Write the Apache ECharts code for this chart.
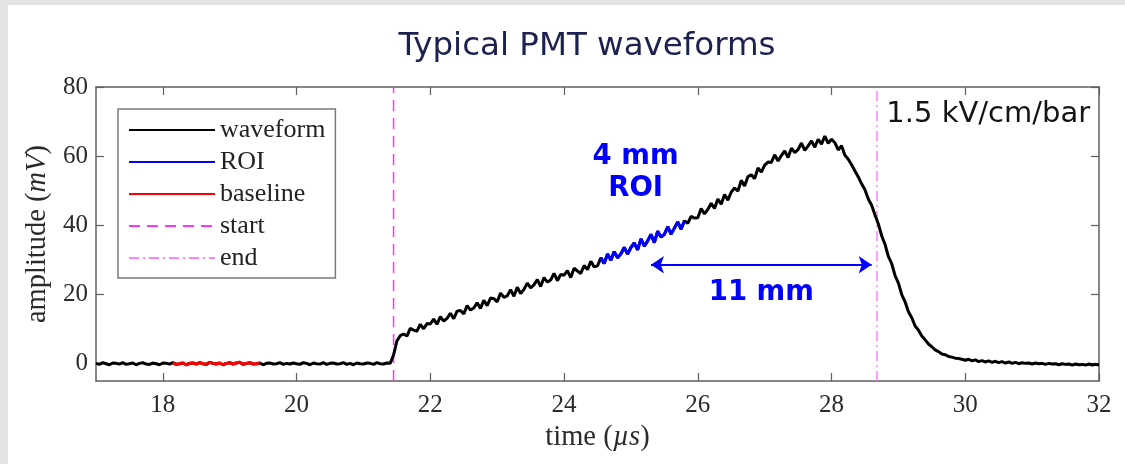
<!DOCTYPE html>
<html>
<head>
<meta charset="utf-8">
<title>Typical PMT waveforms</title>
<script src="https://cdn.jsdelivr.net/npm/echarts@6.0.0/dist/echarts.min.js"></script>
<style>
    html, body { margin: 0; padding: 0; background: #e3e3e3; }
    #chart { position: absolute; left: 8px; top: 5px; width: 1117px; height: 459px; background: #fff; }
</style>
</head>
<body>
<div id="chart"></div>
<script>
// trace sampling (µs)
const tStart = 17
const tStep = 0.05

// amplitude (mV), 17.00 .. 21.40 us
const preTrigger = [
    0.1, -0.2, 0.3, 0.0, -0.3, 0.2, 0.1, -0.1, 0.3, -0.2,
    0.0, 0.2, -0.3, 0.1, 0.3, -0.1, -0.2, 0.2, 0.0, -0.3,
    0.2, 0.1, -0.1, 0.3, -0.2, 0.0, 0.2, -0.3, 0.1, 0.2,
    -0.1, 0.3, 0.0, -0.2, 0.4, 0.1, -0.1, 0.2, -0.3, 0.1,
    0.3, -0.1, 0.2, 0.4, -0.2, 0.1, 0.3, -0.1, 0.0, 0.2,
    -0.3, 0.1, 0.2, -0.1, 0.0, 0.3, -0.2, 0.1, -0.1, 0.2,
    0.0, -0.2, 0.3, 0.1, -0.3, 0.2, 0.0, -0.1, 0.3, -0.2,
    0.1, 0.2, -0.1, 0.0, 0.3, -0.2, 0.1, -0.3, 0.2, 0.0,
    -0.1, 0.2, 0.1, -0.2, 0.3, 0.0, -0.1, 0.2, 0.1,
]

// amplitude (mV), 21.45 .. 32.00 us
const pulse = [
    2.5,
    6.6, 8.1, 8.6, 8.0, 10.2, 9.7, 9.4, 11.4, 10.1, 11.6,
    11.5, 12.9, 11.4, 13.6, 12.3, 13.1, 14.6, 13.0, 15.2, 15.4,
    14.4, 16.8, 15.5, 16.1, 17.6, 16.0, 18.3, 16.8, 19.0, 18.8,
    17.9, 20.4, 19.2, 19.6, 21.4, 19.5, 22.1, 20.3, 21.5, 23.3,
    21.9, 22.8, 24.3, 22.3, 24.9, 23.6, 24.2, 26.1, 24.0, 25.8,
    25.6, 26.9, 24.9, 27.6, 26.8, 26.1, 28.4, 27.2, 29.6, 28.0,
    28.3, 30.6, 29.0, 31.7, 29.9, 32.4, 30.6, 31.8, 33.6, 31.7,
    33.6, 34.9, 32.9, 36.1, 34.0, 35.5, 37.4, 35.0, 38.3, 36.6,
    37.4, 39.6, 37.5, 39.2, 41.0, 38.9, 41.3, 40.6, 42.6, 42.1,
    42.2, 44.9, 43.3, 44.6, 46.4, 44.9, 47.6, 46.1, 48.9, 47.3,
    49.6, 50.8, 49.9, 53.0, 51.4, 54.1, 54.6, 53.5, 56.6, 55.4,
    57.4, 58.3, 58.2, 60.4, 58.6, 60.2, 61.5, 59.6, 62.3, 61.0,
    61.9, 63.8, 61.7, 63.0, 64.4, 62.6, 64.9, 63.5, 65.8, 63.7,
    64.9, 63.9, 61.8, 63.0, 60.3, 59.1, 57.5, 55.7, 54.0, 52.0,
    50.3, 47.6, 45.8, 43.0, 40.4, 37.0, 34.5, 31.0, 28.9, 25.5,
    23.3, 20.0, 17.9, 15.0, 13.3, 10.9, 9.7, 8.0, 6.9, 5.7,
    4.9, 4.0, 3.5, 2.8, 2.6, 2.1, 1.9, 1.6, 1.5, 1.3,
    1.0, 1.3, 0.8, 1.1, 0.6, 0.9, 0.5, 0.8, 0.4, 0.7,
    0.3, 0.6, 0.2, 0.5, 0.1, 0.4, 0.0, 0.3, 0.1, 0.2,
    -0.1, 0.2, 0.0, 0.1, -0.2, 0.1, -0.1, 0.0, -0.3, 0.0,
    -0.2, -0.1, -0.4, -0.1, -0.3, -0.2, -0.4, -0.1, -0.4, -0.2,
    -0.4,
]

const baselineWindow = [18.15, 19.45]
const roiWindow = [24.55, 25.8]
const startTime = 21.45
const endTime = 28.68
const spanEnds = [25.3, 28.6]
const spanLevel = 28.6

const xRange = [17, 32]
const yRange = [-5, 80]
const xTicks = [18, 20, 22, 24, 26, 28, 30, 32]
const yTicks = [0, 20, 40, 60, 80]
const legendNames = ['waveform', 'ROI', 'baseline', 'start', 'end']

const roiNote = { text: '4 mm\nROI', at: [25.07, 55.3] }
const spanNote = { text: '11 mm', at: [26.95, 20.6] }
const fieldNote = { text: '1.5 kV/cm/bar', at: [28.82, 72] }

const serif = '"Liberation Serif", "DejaVu Serif", serif'
const sans = '"DejaVu Sans", Verdana, sans-serif'
const axisGrey = '#5f5f5f'

const waveform = preTrigger.concat(pulse).map((v, i) => [+(tStart + i * tStep).toFixed(2), v])
const slice = w => waveform.filter(p => p[0] >= w[0] - 1e-6 && p[0] <= w[1] + 1e-6)

const chart = echarts.init(document.getElementById('chart'))

const tickStyle = values => ({
    show: true, inside: true, length: 8, customValues: values,
    lineStyle: { color: axisGrey, width: 1.2 },
})

const boxAxis = extra => Object.assign({
    type: 'value',
    axisLine: { show: true, onZero: false, lineStyle: { color: axisGrey, width: 1.5 } },
    splitLine: { show: false },
}, extra)

const nameStyle = {
    fontFamily: serif, fontSize: 28.5, color: '#2b2b2b',
    rich: { i: { fontFamily: serif, fontSize: 28.5, fontStyle: 'italic', color: '#2b2b2b' } },
}

const noteLabel = extra => Object.assign({
    show: true, position: 'inside', fontFamily: sans, fontWeight: 'bold', fontSize: 27.5,
    color: '#0000ff', textBorderWidth: 0, opacity: 1, align: 'center',
}, extra)

chart.setOption({
    animation: false,
    title: {
        text: 'Typical PMT waveforms',
        left: 579,
        top: 25,
        textAlign: 'center',
        padding: 0,
        textStyle: { fontFamily: sans, fontSize: 32.5, fontWeight: 'normal', color: '#1c2150' },
    },
    grid: { left: 88, right: 26, top: 82, bottom: 83, containLabel: false },
    legend: {
        data: legendNames,
        orient: 'vertical',
        left: 110,
        top: 104,
        padding: [8, 10, 7, 10],
        itemGap: 6,
        itemWidth: 86,
        itemHeight: 14,
        selectedMode: false,
        backgroundColor: '#fff',
        borderColor: '#7a7a7a',
        borderWidth: 1.5,
        borderRadius: 0,
        itemStyle: { opacity: 0 },
        lineStyle: { width: 2 },
        textStyle: { fontFamily: serif, fontSize: 26, lineHeight: 26, color: '#222' },
    },
    xAxis: [
        boxAxis({
            min: xRange[0], max: xRange[1],
            name: 'time ({i|µs})',
            nameLocation: 'middle',
            nameGap: 41,
            nameTextStyle: nameStyle,
            axisTick: tickStyle(xTicks),
            axisLabel: { customValues: xTicks, margin: 12, fontFamily: serif, fontSize: 25, color: '#2b2b2b' },
        }),
        boxAxis({
            min: xRange[0], max: xRange[1], position: 'top',
            axisTick: tickStyle(xTicks),
            axisLabel: { show: false },
        }),
    ],
    yAxis: [
        boxAxis({
            min: yRange[0], max: yRange[1],
            name: 'amplitude ({i|mV})',
            nameLocation: 'middle',
            nameRotate: 90,
            nameGap: 40,
            nameTextStyle: nameStyle,
            axisTick: tickStyle(yTicks),
            axisLabel: { customValues: yTicks, margin: 8, fontFamily: serif, fontSize: 25, color: '#2b2b2b' },
        }),
        boxAxis({
            min: yRange[0], max: yRange[1], position: 'right',
            axisTick: tickStyle(yTicks),
            axisLabel: { show: false },
        }),
    ],
    series: [
        {
            name: 'waveform',
            type: 'line',
            data: waveform,
            symbol: 'none',
            lineStyle: { color: '#000', width: 3 },
            itemStyle: { color: '#000' },
            z: 3,
        },
        {
            name: 'ROI',
            type: 'line',
            data: slice(roiWindow),
            symbol: 'none',
            lineStyle: { color: '#0000ff', width: 3 },
            itemStyle: { color: '#0000ff' },
            z: 4,
        },
        {
            name: 'baseline',
            type: 'line',
            data: slice(baselineWindow),
            symbol: 'none',
            lineStyle: { color: '#ff0000', width: 3 },
            itemStyle: { color: '#ff0000' },
            z: 4,
        },
        {
            name: 'start',
            type: 'line',
            data: [[startTime, yRange[0]], [startTime, yRange[1]]],
            symbol: 'none',
            lineStyle: { color: '#ff33ff', width: 1.5, type: [11, 7] },
            itemStyle: { color: '#ff33ff' },
            z: 2,
        },
        {
            name: 'end',
            type: 'line',
            data: [[endTime, yRange[0]], [endTime, yRange[1]]],
            symbol: 'none',
            lineStyle: { color: '#ff80ff', width: 1.5, type: [10, 4, 2, 4] },
            itemStyle: { color: '#ff80ff' },
            z: 2,
        },
        {
            name: 'notes',
            type: 'scatter',
            symbolSize: 0,
            silent: true,
            itemStyle: { opacity: 1 },
            z: 6,
            data: [
                { value: roiNote.at, label: noteLabel({ formatter: roiNote.text, lineHeight: 32 }) },
                { value: spanNote.at, label: noteLabel({ formatter: spanNote.text }) },
                {
                    value: fieldNote.at,
                    label: noteLabel({
                        position: 'right', distance: 0, formatter: fieldNote.text, align: 'left',
                        fontWeight: 'normal', fontSize: 29, color: '#141414',
                    }),
                },
            ],
            markLine: {
                silent: true,
                symbol: ['arrow', 'arrow'],
                symbolSize: 13,
                label: { show: false },
                lineStyle: { color: '#0000ff', width: 2, type: 'solid', opacity: 1 },
                data: [[{ coord: [spanEnds[0], spanLevel] }, { coord: [spanEnds[1], spanLevel] }]],
            },
        },
    ],
})
</script>
</body>
</html>
